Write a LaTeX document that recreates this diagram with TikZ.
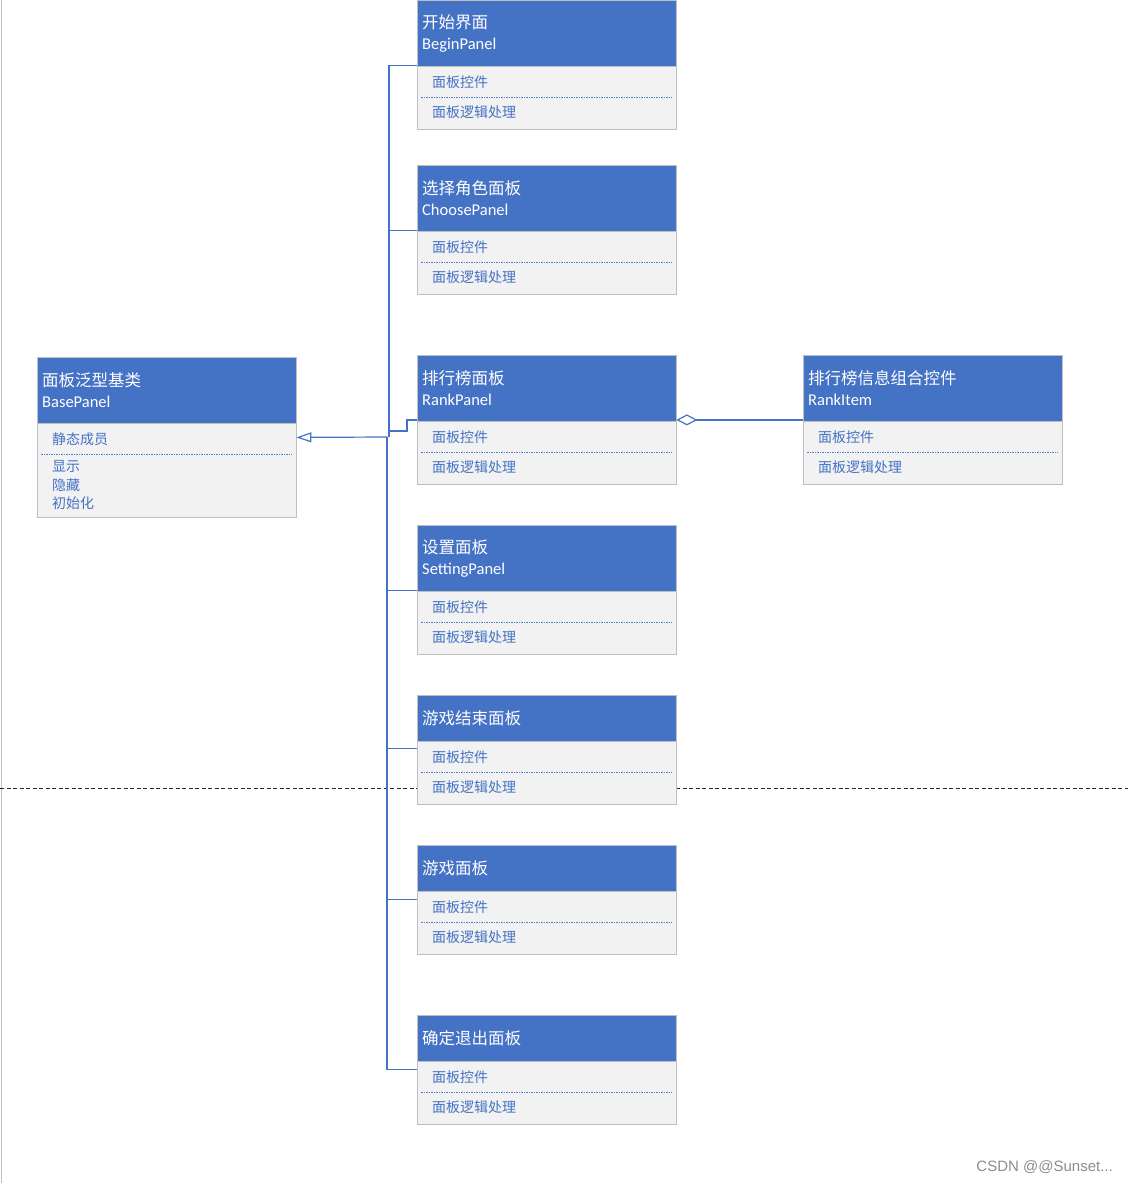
\documentclass[tikz,border=0pt]{standalone}
\usepackage{fontspec}
\setmainfont{Carlito}
\newfontfamily\cjk{Noto Sans CJK SC}
\newfontfamily\wmfont{Liberation Sans}
\usetikzlibrary{arrows.meta}
\definecolor{umlblue}{HTML}{4472C4}
\definecolor{boxgray}{HTML}{BFBFBF}
\definecolor{bodygray}{HTML}{F2F2F2}

\begin{document}
\begin{tikzpicture}[x=1pt,y=-1pt,
  head/.style={draw=boxgray,fill=umlblue,text=white,anchor=north west,
    minimum width=259pt,text width=249pt,inner xsep=5pt,inner ysep=0pt,
    align=left,font=\fontsize{16.5}{22}\selectfont},
  body/.style={draw=boxgray,fill=bodygray,anchor=north west,
    minimum width=259pt,inner sep=0pt},
  entry/.style={text=umlblue,anchor=west,inner sep=0pt,
    font=\cjk\fontsize{14}{18}\selectfont},
  sep/.style={umlblue!90,line width=0.8pt,dash pattern=on 1.5pt off 1pt},
  link/.style={umlblue,line width=1.2pt},
  inherit/.style={link,-{Triangle[open,length=15pt,width=10pt,fill=white]}},
  aggr/.style={link,{Diamond[open,length=21pt,width=11pt,fill=white]}-}]
 \useasboundingbox (0,0) rectangle (1128,1183);
 \draw[gray!50] (1,0) -- (1,1183);
 \draw[black!85,dash pattern=on 4pt off 2.5pt] (0,788) -- (1128,788);
 % base class
 \node[head,minimum height=66pt] (base) at (37,357)
  {{\cjk 面板泛型基类}\\[-1pt]{\fontsize{16.5}{22}\selectfont BasePanel}};
 \node[body,minimum height=94pt] (baseB) at (base.south west) {};
 \node[entry] at ([shift={(15,16)}]baseB.north west) {静态成员};
 \draw[sep] ([shift={(4,31)}]baseB.north west) -- ([shift={(-4,31)}]baseB.north east);
 \foreach \t[count=\k] in {显示,隐藏,初始化}
  \node[entry] at ([shift={(15,24.5+18.5*\k)}]baseB.north west) {\t};
 % panels
 \foreach \n/\x/\y/\cn/\en in {begin/417/0/开始界面/BeginPanel,
   choose/417/165/选择角色面板/ChoosePanel, rank/417/355/排行榜面板/RankPanel,
   setting/417/525/设置面板/SettingPanel, rankItem/803/355/排行榜信息组合控件/RankItem}
  \node[head,minimum height=66pt] (\n) at (\x,\y)
   {{\cjk\cn}\\[-1pt]{\fontsize{16.5}{22}\selectfont\en}};
 \foreach \n/\y/\cn in {over/695/游戏结束面板, game/845/游戏面板, quit/1015/确定退出面板}
  \node[head,minimum height=46pt] (\n) at (417,\y) {\cjk\cn};
 \foreach \n in {begin,choose,rank,setting,rankItem,over,game,quit}{
  \node[body,minimum height=63pt] (\n B) at (\n.south west) {};
  \node[entry] at ([shift={(15,16)}]\n B.north west) {面板控件};
  \draw[sep] ([shift={(4,31)}]\n B.north west) -- ([shift={(-4,31)}]\n B.north east);
  \node[entry] at ([shift={(15,46)}]\n B.north west) {面板逻辑处理};
 }
 % connectors
 \coordinate (hub) at (387,437);
 \coordinate (baseTip) at ([yshift=-14pt]baseB.north east);
 \draw[inherit] (hub) -- (baseTip);
 \foreach \n in {begin,choose}
  \draw[link] ([yshift=1pt]\n.south west) -| ([xshift=2pt]hub);
 \draw[link] ([yshift=1.5pt]rank.south west) -- ++(-10,0) |- ([shift={(2,-6)}]hub)
  -- ([xshift=2pt]hub);
 \foreach \n/\d in {setting/1, over/-7, game/-8, quit/-8}
  \draw[link] ([yshift=\d pt]\n.south west) -| (hub);
 \draw[aggr] ([yshift=1.5pt]rank.south east) -- ([yshift=1.5pt]rankItem.south west);
 \node[text=black!45,anchor=east,inner sep=0pt,font=\wmfont\fontsize{15}{17}\selectfont]
  (mark) at (1113,1167) {CSDN @@Sunset...};
\end{tikzpicture}
\end{document}
